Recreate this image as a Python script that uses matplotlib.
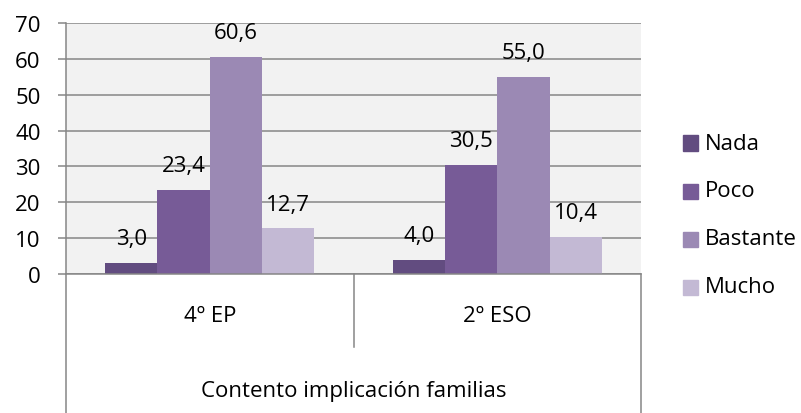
import numpy as np
import matplotlib.pyplot as plt
from matplotlib.patches import Rectangle
from matplotlib.lines import Line2D

plt.rcParams['font.family'] = ['Open Sans', 'DejaVu Sans']

grupos = ['4º EP', '2º ESO']
series = ['Nada', 'Poco', 'Bastante', 'Mucho']
valores = {
    'Nada': [3.0, 4.0],
    'Poco': [23.4, 30.5],
    'Bastante': [60.6, 55.0],
    'Mucho': [12.7, 10.4],
}
colores = ['#624c80', '#775b97', '#9b89b4', '#c3b9d4']
titulo_eje = 'Contento implicación familias'

W, H = 801, 414
fig = plt.figure(figsize=(W / 100, H / 100), dpi=100)
ax = fig.add_axes([66 / W, (H - 275) / H, (641 - 66) / W, 251 / H])
ax.set_facecolor('#f2f2f2')

gris = '#868686'
fs = 16
ancho = 0.182
x = np.arange(len(grupos)) + 0.5
for i, s in enumerate(series):
    pos = x + (i - 1.5) * ancho
    ax.bar(pos, valores[s], width=ancho, color=colores[i], zorder=3)
    for px, v in zip(pos, valores[s]):
        ax.annotate(f'{v:.1f}'.replace('.', ','), (px, v), xytext=(0, 13.5),
                    textcoords='offset points', ha='center', va='baseline',
                    fontsize=fs, zorder=4)

ax.set_xlim(0, len(grupos))
ax.set_ylim(0, 70)
ax.set_yticks(np.arange(0, 71, 10))
ax.yaxis.grid(True, color=gris, linewidth=1.1, zorder=1)
ax.tick_params(axis='y', length=5.8, width=1.1, color=gris, pad=12.5, labelsize=fs)
ax.tick_params(axis='x', length=0, labelbottom=False)
for side in ['top', 'right', 'left']:
    ax.spines[side].set_visible(False)
ax.spines['bottom'].set_color(gris)
ax.spines['bottom'].set_linewidth(1.1)
ax.spines['bottom'].set_zorder(5)

# ejes de categorías en dos niveles
tr = ax.get_xaxis_transform()
bajo = -0.56
ax.add_line(Line2D([0, 0], [1, bajo], transform=tr, color=gris, lw=1.1, clip_on=False, zorder=5))
ax.add_line(Line2D([1, 1], [0, -0.291], transform=tr, color=gris, lw=1.1, clip_on=False))
ax.add_line(Line2D([2, 2], [0, bajo], transform=tr, color=gris, lw=1.1, clip_on=False))
for px, g in zip(x, grupos):
    ax.text(px, -0.167, g, transform=tr, ha='center', va='center', fontsize=fs)
ax.text(1, -0.466, titulo_eje, transform=tr, ha='center', va='center', fontsize=fs)

# leyenda
for i, s in enumerate(series):
    yc = 144 + i * 48
    fig.patches.append(Rectangle((683 / W, (H - yc - 7.5) / H), 15 / W, 15 / H,
                                 transform=fig.transFigure, color=colores[i]))
    fig.text(705 / W, (H - yc) / H, s, ha='left', va='center', fontsize=fs)

fig.savefig('out.png', dpi=100)
